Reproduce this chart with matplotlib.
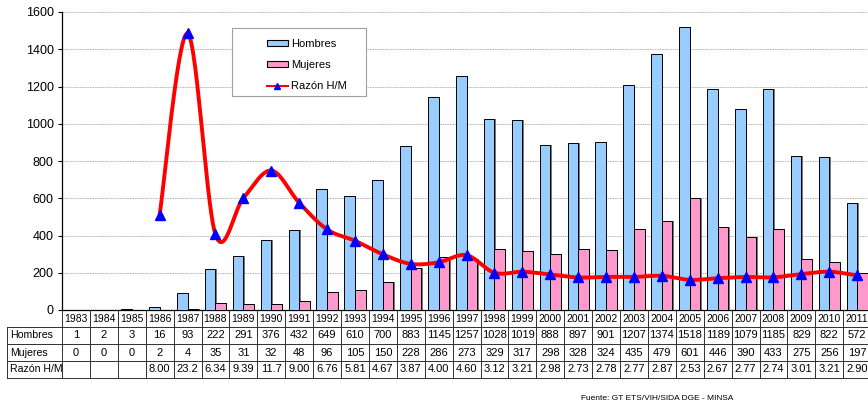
import numpy as np
import matplotlib
matplotlib.use('Agg')
import matplotlib.pyplot as plt
from matplotlib.patches import Rectangle, Patch
from matplotlib.lines import Line2D
import matplotlib.transforms as mtransforms

plt.rcParams['font.family'] = ['Liberation Sans', 'DejaVu Sans']

years = [str(y) for y in range(1983, 2012)]
hombres = [1, 2, 3, 16, 93, 222, 291, 376, 432, 649, 610, 700, 883, 1145, 1257,
           1028, 1019, 888, 897, 901, 1207, 1374, 1518, 1189, 1079, 1185, 829, 822, 572]
mujeres = [0, 0, 0, 2, 4, 35, 31, 32, 48, 96, 105, 150, 228, 286, 273,
           329, 317, 298, 328, 324, 435, 479, 601, 446, 390, 433, 275, 256, 197]
razon = [None, None, None, 8.00, 23.2, 6.34, 9.39, 11.7, 9.00, 6.76, 5.81, 4.67, 3.87, 4.00, 4.60,
         3.12, 3.21, 2.98, 2.73, 2.78, 2.77, 2.87, 2.53, 2.67, 2.77, 2.74, 3.01, 3.21, 2.90]
row_labels = ['Hombres', 'Mujeres', 'Razón H/M']
fuente = 'Fuente: GT ETS/VIH/SIDA DGE - MINSA'

W, H = 868, 408
def fx(px):
    return px / W
def fy(py):
    return 1 - py / H

fig = plt.figure(figsize=(W / 100, H / 100), dpi=100)
col_w = 27.9
ax = fig.add_axes([fx(62), fy(310), 29 * col_w / W, (310 - 12) / H])
x = np.arange(len(years))
ax.set_xlim(-0.5, len(years) - 0.5)
ax.set_ylim(0, 1600)
ax.set_yticks(range(0, 1601, 200))
ax.tick_params(axis='y', labelsize=9, length=3, width=0.8, pad=3)
ax.set_xticks([])
for s in ['top', 'right']:
    ax.spines[s].set_visible(False)
ax.spines['left'].set_linewidth(0.9)
ax.spines['bottom'].set_linewidth(0.9)
ax.set_axisbelow(True)
ax.yaxis.grid(True, color='#b0b0b0', linestyle=(0, (2, 1)), linewidth=0.6)

bw = 0.383
off = 0.19
sh = 0.05
ax.bar(x - off + sh, hombres, bw, color='#7a7a7a', zorder=2, linewidth=0)
ax.bar(x - off, hombres, bw, color='#99ccff', edgecolor='black', linewidth=0.7, zorder=3)
ax.bar(x + off + sh, mujeres, bw, color='#7a7a7a', zorder=2, linewidth=0)
ax.bar(x + off, mujeres, bw, color='#ff99cc', edgecolor='black', linewidth=0.7, zorder=3)

ax2 = ax.twinx()
ax2.set_ylim(0, 25)
ax2.axis('off')
idx = [i for i, v in enumerate(razon) if v is not None]
px_ = np.array(idx, dtype=float)
py_ = np.array([razon[i] for i in idx], dtype=float)
P = np.column_stack([px_, py_])
n = len(P)
curve = []
t = np.linspace(0, 1, 30)[:, None]
for i in range(n - 1):
    P0 = P[i - 1] if i > 0 else P[i]
    P1 = P[i]
    P2 = P[i + 1]
    P3 = P[i + 2] if i + 2 < n else P[i + 1]
    c1 = P1 + (P2 - P0) / 6
    c2 = P2 - (P3 - P1) / 6
    B = ((1 - t) ** 3) * P1 + 3 * ((1 - t) ** 2) * t * c1 + 3 * (1 - t) * t ** 2 * c2 + t ** 3 * P2
    curve.append(B)
curve = np.vstack(curve)
ax2.plot(curve[:, 0], curve[:, 1], color='#ff0000', lw=2.8, solid_capstyle='round', zorder=5)
ax2.plot(px_, py_, linestyle='none', marker='^', markersize=7.5, color='#0000ff', zorder=6)

# table
trans = mtransforms.blended_transform_factory(ax.transData, fig.transFigure)
lc = '#303030'
lw = 0.7
rows_y = [310, 327, 344, 361, 378]
for xb in np.arange(-0.5, len(years), 1.0):
    fig.add_artist(Line2D([xb, xb], [fy(310), fy(378)], transform=trans, color=lc, lw=lw))
for yb in rows_y[1:]:
    fig.add_artist(Line2D([fx(7), fx(875)], [fy(yb), fy(yb)], color=lc, lw=lw))
fig.add_artist(Line2D([fx(7), fx(7)], [fy(327), fy(378)], color=lc, lw=lw))

def fmt_r(v):
    if v is None:
        return ''
    return f'{v:.1f}' if v >= 10 else f'{v:.2f}'

rows = [[str(v) for v in hombres], [str(v) for v in mujeres], [fmt_r(v) for v in razon]]
for i, yr in enumerate(years):
    fig.text(i, fy(319), yr, transform=trans, ha='center', va='center', fontsize=7.5)
for r, (lab, vals) in enumerate(zip(row_labels, rows)):
    yc = fy((rows_y[r + 1] + rows_y[r + 2]) / 2)
    fig.text(fx(10), yc, lab, ha='left', va='center', fontsize=7.6)
    for i, v in enumerate(vals):
        fig.text(i, yc, v, transform=trans, ha='center', va='center', fontsize=8)

# legend
fig.add_artist(Rectangle((fx(232), fy(96)), (366 - 232) / W, (96 - 28) / H, transform=fig.transFigure,
                         facecolor='white', edgecolor='#a0a0a0', lw=0.8))
handles = [Patch(facecolor='#99ccff', edgecolor='black', lw=0.8),
           Patch(facecolor='#ff99cc', edgecolor='black', lw=0.8),
           Line2D([], [], color='#ff0000', lw=1.5, marker='^', markersize=5,
                  markerfacecolor='#0000ff', markeredgecolor='#0000ff')]
leg = fig.legend(handles, ['Hombres', 'Mujeres', 'Razón H/M'], loc='upper left',
                 bbox_to_anchor=(fx(258), fy(30)), frameon=False, fontsize=8,
                 handlelength=1.9, handleheight=0.5, handletextpad=0.3, labelspacing=1.0,
                 borderpad=0.3)

fig.text(fx(581), fy(398), fuente, fontsize=6, va='center', ha='left')

fig.savefig('out.png', dpi=100)
